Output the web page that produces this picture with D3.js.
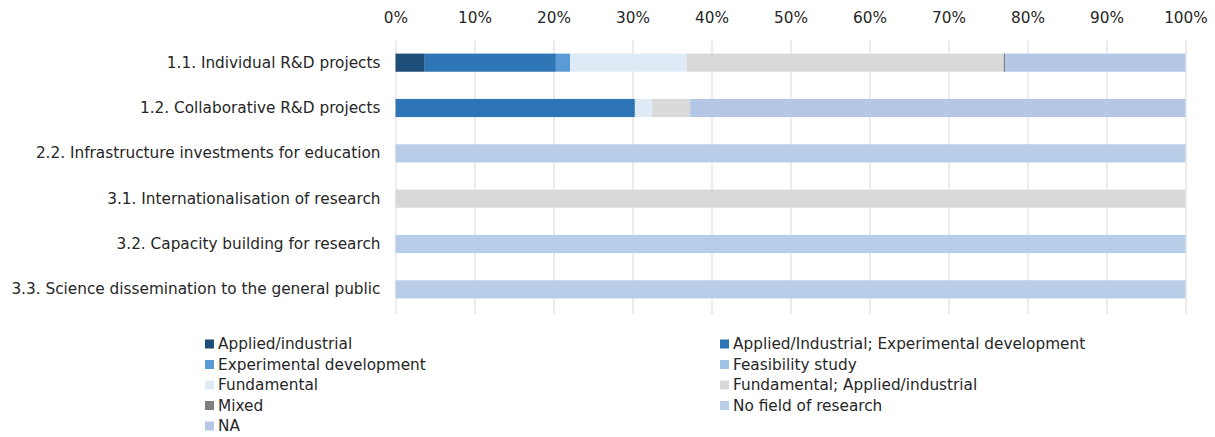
<!DOCTYPE html>
<html>
<head>
<meta charset="utf-8">
<script src="https://cdn.jsdelivr.net/npm/d3@7"></script>
<style>
  body { margin: 0; background: #fff; }
  svg text { font-family: "DejaVu Sans", Verdana, sans-serif; fill: #262626; }
</style>
</head>
<body>
<svg id="chart"></svg>
<script>
let width = 1215, height = 437;
let margin = {top: 40, right: 29.5, bottom: 125, left: 395.5};
let fontSize = 15.3;

// measures (rows of the chart)
let measures = [
  "1.1. Individual R&D projects",
  "1.2. Collaborative R&D projects",
  "2.2. Infrastructure investments for education",
  "3.1. Internationalisation of research",
  "3.2. Capacity building for research",
  "3.3. Science dissemination to the general public"
];

let fields = [
  "Applied/industrial",
  "Applied/Industrial; Experimental development",
  "Experimental development",
  "Feasibility study",
  "Fundamental",
  "Fundamental; Applied/industrial",
  "Mixed",
  "No field of research",
  "NA"
];

let colors = ["#1f4e79", "#2e75b6", "#5b9bd5", "#9dc3e6", "#deebf7", "#d9d9d9", "#7f7f7f", "#b8cde8", "#b4c7e7"];

// shares in %, one array per field, same order as measures
let appliedIndustrial   = [3.7, 0, 0, 0, 0, 0];
let appliedExperimental = [16.6, 30.3, 0, 0, 0, 0];
let experimental        = [1.8, 0, 0, 0, 0, 0];
let feasibility         = [0, 0, 0, 0, 0, 0];
let fundamental         = [14.8, 2.2, 0, 0, 0, 0];
let fundamentalApplied  = [40.1, 4.8, 0, 100, 0, 0];
let mixed               = [0.2, 0, 0, 0, 0, 0];
let noField             = [0, 0, 100, 0, 100, 100];
let na                  = [22.8, 62.7, 0, 0, 0, 0];

let ticks = [0, 10, 20, 30, 40, 50, 60, 70, 80, 90, 100];

let series = [appliedIndustrial, appliedExperimental, experimental, feasibility,
              fundamental, fundamentalApplied, mixed, noField, na];

let data = measures.map((m, i) => {
  let row = {measure: m};
  fields.forEach((f, j) => row[f] = series[j][i]);
  return row;
});

let w = width - margin.left - margin.right;
let h = height - margin.top - margin.bottom;

let svg = d3.select("#chart")
  .attr("width", width)
  .attr("height", height);

let g = svg.append("g")
  .attr("transform", "translate(" + margin.left + "," + margin.top + ")");

let x = d3.scaleLinear().domain([0, 100]).range([0, w]);
let y = d3.scaleBand().domain(measures).range([0, h]).paddingInner(0.6).paddingOuter(0.3);
let color = d3.scaleOrdinal().domain(fields).range(colors);

// vertical gridlines
g.selectAll(".grid")
  .data(ticks)
  .enter().append("line")
  .attr("x1", d => Math.round(x(d)) + 0.5)
  .attr("x2", d => Math.round(x(d)) + 0.5)
  .attr("y1", 0)
  .attr("y2", h + 2)
  .attr("stroke", "#d9d9d9")
  .attr("stroke-width", 1);

// top axis labels
g.append("g")
  .attr("transform", "translate(0,-14)")
  .call(d3.axisTop(x).tickValues(ticks).tickFormat(d => d + "%").tickSize(0))
  .call(a => a.select(".domain").remove())
  .selectAll("text")
  .attr("font-size", fontSize)
  .attr("fill", "#262626");

let stacked = d3.stack().keys(fields)(data);

g.selectAll(".layer")
  .data(stacked)
  .enter().append("g")
  .attr("fill", d => color(d.key))
  .selectAll("rect")
  .data(d => d)
  .enter().append("rect")
  .attr("x", d => x(d[0]))
  .attr("width", d => x(d[1]) - x(d[0]))
  .attr("y", d => y(d.data.measure))
  .attr("height", y.bandwidth());

// category labels
g.append("g")
  .call(d3.axisLeft(y).tickSize(0).tickPadding(15))
  .call(a => a.select(".domain").remove())
  .selectAll("text")
  .attr("font-size", fontSize)
  .attr("fill", "#262626");

// legend, two columns
let legend = svg.append("g").attr("transform", "translate(205,344)");
let colX = [0, 515];
let rowH = 20.5;

let item = legend.selectAll(".item")
  .data(fields)
  .enter().append("g")
  .attr("transform", (d, i) => "translate(" + colX[i % 2] + "," + Math.floor(i / 2) * rowH + ")");

item.append("rect")
  .attr("x", 0)
  .attr("y", -4.5)
  .attr("width", 9)
  .attr("height", 9)
  .attr("fill", d => color(d));

item.append("text")
  .attr("x", 13)
  .attr("dy", "0.35em")
  .attr("font-size", fontSize)
  .text(d => d);
</script>
</body>
</html>
